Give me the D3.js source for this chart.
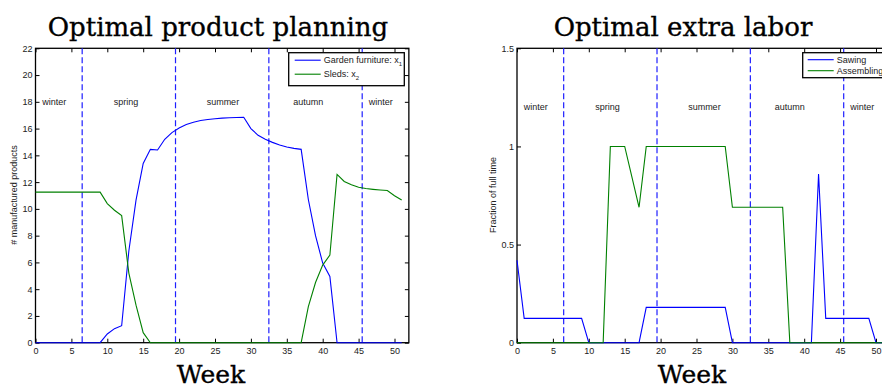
<!DOCTYPE html>
<html>
<head>
<meta charset="utf-8">
<script src="https://cdn.jsdelivr.net/npm/d3@7"></script>
<style>
body { margin: 0; background: #fff; }
svg { display: block; }
text { font-family: "Liberation Sans", Arial, sans-serif; }
.title, .week { font-family: "DejaVu Serif", serif; fill: #000; stroke: #000; stroke-width: 0.35; }
</style>
</head>
<body>
<div id="chart"></div>
<script>
// weeks 0..51
var weeks = d3.range(0, 52);

var gardenFurniture = [0, 0, 0, 0, 0, 0, 0, 0, 0, 0,
	0.65, 1.05, 1.27, 6.85, 10.66, 13.4, 14.45, 14.4, 15.2, 15.7,
	16.05, 16.3, 16.48, 16.6, 16.68, 16.74, 16.78, 16.81, 16.83, 16.85,
	16.0, 15.5, 15.2, 14.97, 14.78, 14.62, 14.52, 14.45, 10.7, 8.0,
	5.95, 4.95, 0, 0, 0, 0, 0, 0, 0, 0, 0, 0];

var sleds = [11.25, 11.25, 11.25, 11.25, 11.25, 11.25, 11.25, 11.25, 11.25, 11.25,
	10.4, 9.9, 9.5, 5.2, 2.8, 0.75, 0, 0, 0, 0,
	0, 0, 0, 0, 0, 0, 0, 0, 0, 0,
	0, 0, 0, 0, 0, 0, 0, 0, 2.7, 4.5,
	5.8, 6.55, 12.58, 12.05, 11.8, 11.62, 11.52, 11.46, 11.41, 11.37, 10.98, 10.66];

var sawing = [0.42, 0.124, 0.124, 0.124, 0.124, 0.124, 0.124, 0.124, 0.124, 0.124,
	0, 0, 0, 0, 0, 0, 0, 0, 0.18, 0.18,
	0.18, 0.18, 0.18, 0.18, 0.18, 0.18, 0.18, 0.18, 0.18, 0.18,
	0, 0, 0, 0, 0, 0, 0, 0, 0, 0,
	0, 0, 0.86, 0.124, 0.124, 0.124, 0.124, 0.124, 0.124, 0.124, 0, 0];

var assembling = [0, 0, 0, 0, 0, 0, 0, 0, 0, 0,
	0, 0, 0, 1, 1, 1, 0.845, 0.69, 1, 1,
	1, 1, 1, 1, 1, 1, 1, 1, 1, 1,
	0.69, 0.69, 0.69, 0.69, 0.69, 0.69, 0.69, 0.69, 0, 0,
	0, 0, 0, 0, 0, 0, 0, 0, 0, 0, 0, 0];

var seasonNames = ["winter", "spring", "summer", "autumn", "winter"];
var seasonCenters = [2.6, 12.6, 26.1, 38.0, 48.1];
var seasonBounds = [6.5, 19.5, 32.5, 45.5];
var xTicks = [0, 5, 10, 15, 20, 25, 30, 35, 40, 45, 50];
var leftYTicks = [0, 2, 4, 6, 8, 10, 12, 14, 16, 18, 20, 22];
var rightYTicks = [0, 0.5, 1, 1.5];

var svg = d3.select("#chart").append("svg")
	.attr("width", 882)
	.attr("height", 388);

function drawPanel(p) {
	var top = 48.3, bottom = 342.7;
	var x = d3.scaleLinear().domain([0, 52]).range([p.left, p.left + 7.18 * 52]);
	var y = d3.scaleLinear().domain([0, p.yMax]).range([bottom, top]);
	var g = svg.append("g");

	// frame first, the lines at zero sit on top of it
	g.append("rect")
		.attr("x", p.left)
		.attr("y", top)
		.attr("width", x(52) - p.left)
		.attr("height", bottom - top)
		.attr("fill", "none")
		.attr("stroke", "#000")
		.attr("stroke-width", 1.3);

	// ticks (inside, matlab style)
	g.append("g")
		.attr("transform", "translate(0," + bottom + ")")
		.call(d3.axisBottom(x).tickValues(xTicks).tickSize(-4).tickPadding(5));
	g.append("g")
		.attr("transform", "translate(0," + top + ")")
		.call(d3.axisTop(x).tickValues(xTicks).tickSize(-4).tickFormat(""));
	g.append("g")
		.attr("transform", "translate(" + p.left + ",0)")
		.call(d3.axisLeft(y).tickValues(p.yTicks).tickSize(-4).tickPadding(3).tickFormat(String));
	g.append("g")
		.attr("transform", "translate(" + x(52) + ",0)")
		.call(d3.axisRight(y).tickValues(p.yTicks).tickSize(-4).tickFormat(""));
	g.selectAll(".domain").remove();
	g.selectAll(".tick line").attr("stroke", "#000");
	g.selectAll(".tick text")
		.style("font-family", "'Liberation Sans', Arial, sans-serif")
		.style("font-size", "9px")
		.attr("fill", "#222");

	// season separators
	g.selectAll(".season-line")
		.data(seasonBounds)
		.enter().append("line")
		.attr("x1", function(d) { return x(d); })
		.attr("x2", function(d) { return x(d); })
		.attr("y1", top)
		.attr("y2", bottom)
		.attr("stroke", "#1f1fff")
		.attr("stroke-width", 1.2)
		.attr("stroke-dasharray", "6,3");

	g.selectAll(".season")
		.data(seasonNames)
		.enter().append("text")
		.attr("x", function(d, i) { return x(seasonCenters[i]); })
		.attr("y", y(p.seasonY) + 3)
		.attr("text-anchor", "middle")
		.style("font-size", "9px")
		.attr("fill", "#222")
		.text(function(d) { return d; });

	var line = d3.line()
		.x(function(d, i) { return x(weeks[i]); })
		.y(function(d) { return y(d); });

	p.series.forEach(function(s) {
		g.append("path")
			.datum(s.values)
			.attr("fill", "none")
			.attr("stroke", s.color)
			.attr("stroke-width", 1.1)
			.attr("d", line);
	});

	// legend
	var lg = g.append("g").attr("transform", "translate(" + p.legend.x + "," + p.legend.y + ")");
	lg.append("rect")
		.attr("width", p.legend.w)
		.attr("height", p.legend.h)
		.attr("fill", "#fff")
		.attr("stroke", "#000")
		.attr("stroke-width", 1.3);
	p.series.forEach(function(s, i) {
		var ly = p.legend.rowY[i];
		lg.append("line")
			.attr("x1", p.legend.lineX[0]).attr("x2", p.legend.lineX[1])
			.attr("y1", ly).attr("y2", ly)
			.attr("stroke", s.color)
			.attr("stroke-width", 1.1);
		var t = lg.append("text")
			.attr("x", p.legend.lineX[1] + 3)
			.attr("y", ly + 3)
			.style("font-size", "9px")
			.attr("fill", "#222")
			.text(s.label);
		if (s.sub) {
			t.append("tspan")
				.attr("dy", 3)
				.style("font-size", "6px")
				.text(s.sub);
		}
	});

	// labels
	svg.append("text")
		.attr("class", "title")
		.attr("x", p.titleX)
		.attr("y", 36)
		.attr("text-anchor", "middle")
		.style("font-size", "26px")
		.text(p.title);
	svg.append("text")
		.attr("class", "week")
		.attr("x", p.weekX)
		.attr("y", 383)
		.attr("text-anchor", "middle")
		.style("font-size", "25px")
		.text("Week");
	svg.append("text")
		.attr("transform", "translate(" + p.ylabelX + ",195) rotate(-90)")
		.attr("text-anchor", "middle")
		.style("font-size", "9px")
		.attr("fill", "#222")
		.text(p.ylabel);
}

drawPanel({
	left: 35.5,
	yMax: 22,
	yTicks: leftYTicks,
	seasonY: 18,
	title: "Optimal product planning",
	titleX: 218,
	weekX: 211,
	ylabel: "# manufactured products",
	ylabelX: 17,
	series: [
		{values: gardenFurniture, color: "#0000ff", label: "Garden furniture: x", sub: "1"},
		{values: sleds, color: "#008000", label: "Sleds: x", sub: "2"}
	],
	legend: {x: 288.7, y: 52.7, w: 115.6, h: 33, rowY: [7.5, 21.5], lineX: [6, 32]}
});

drawPanel({
	left: 517,
	yMax: 1.5,
	yTicks: rightYTicks,
	seasonY: 1.2,
	title: "Optimal extra labor",
	titleX: 683,
	weekX: 692,
	ylabel: "Fraction of full time",
	ylabelX: 495.5,
	series: [
		{values: sawing, color: "#0000ff", label: "Sawing"},
		{values: assembling, color: "#008000", label: "Assembling"}
	],
	legend: {x: 802.7, y: 52.7, w: 100, h: 25, rowY: [7, 18], lineX: [5, 31]}
});
</script>
</body>
</html>
